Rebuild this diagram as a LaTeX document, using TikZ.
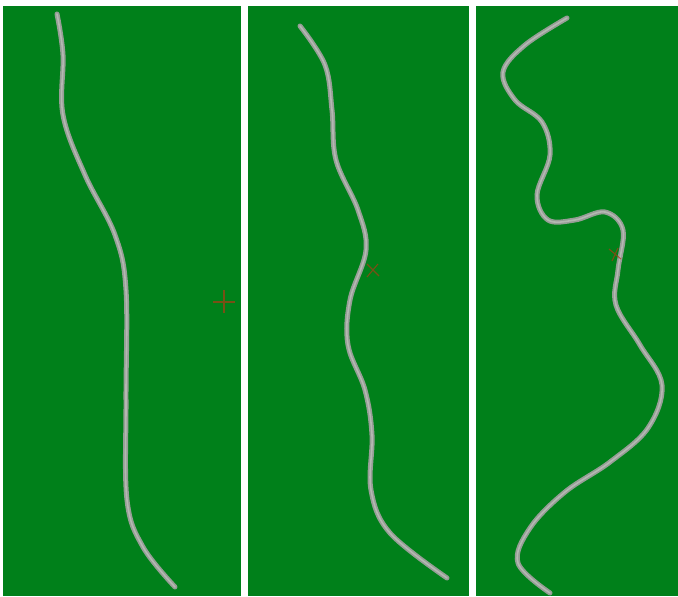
\documentclass[tikz,border=0pt]{standalone}
\usepackage{xcolor}
\usepackage{tikz}
\definecolor{grass}{RGB}{0,128,26}
\definecolor{roadedge}{RGB}{150,158,150}
\definecolor{roadmid}{RGB}{180,184,178}
\definecolor{marker}{RGB}{170,60,20}
\tikzstyle{panel} = [fill=grass, draw=none]
\tikzstyle{road} = [draw=roadedge, line width=5pt, line cap=round, smooth, tension=0.6]
\tikzstyle{roadline} = [draw=roadmid, line width=1.6pt, line cap=round, smooth, tension=0.6]
\tikzstyle{cross} = [draw=marker, line width=1.1pt, opacity=0.7]

\begin{document}
\begin{tikzpicture}[x=1pt, y=-1pt]
        \useasboundingbox (0,0) rectangle (678,597);
        \fill[white] (0,0) rectangle (678,597);

        % three panels
        \fill [panel] (3,6) rectangle (241,596);
        \fill [panel] (248,6) rectangle (469,596);
        \fill [panel] (476,6) rectangle (678,596);

        % left road
        \foreach \s in {road, roadline}
            \draw [\s] plot coordinates {(57,14) (63,55) (63,115) (85,175) (115,235) (126,290) (126,400) (127,500) (143,547) (175,587)};
        \draw [cross] (213,302) -- (235,302) (224,290) -- (224,313);

        % middle road
        \foreach \s in {road, roadline}
            \draw [\s] plot coordinates {(300,26) (325,65) (332,110) (336,160) (358,210) (366,250) (350,300) (348,345) (365,390) (372,435) (371,490) (390,533) (447,578)};
        \draw [cross] (367,264) -- (379,276) (367,277) -- (378,264);

        % right road
        \foreach \s in {road, roadline}
            \draw [\s] plot coordinates {(567,18) (525,45) (503,72) (515,100) (542,122) (550,155) (537,195) (548,220) (575,220) (605,212) (623,230) (618,270) (616,305) (640,345) (662,385) (648,428) (610,462) (565,492) (530,528) (518,563) (550,593)};
        \draw [cross] (609,249) -- (621,259) (612,261) -- (618,248);
    \end{tikzpicture}
\end{document}
